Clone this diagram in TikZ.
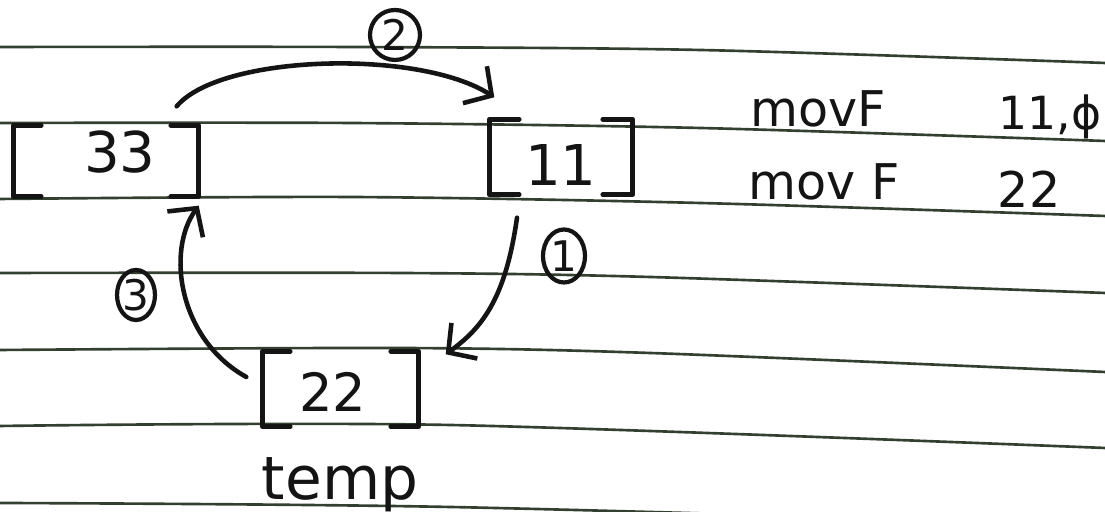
\documentclass[tikz,border=0pt]{standalone}
\usepackage{fontspec}
\setmainfont{DejaVu Sans}
\usetikzlibrary{arrows.meta,shapes.geometric,calc}
\definecolor{ink}{HTML}{141414}
\definecolor{rulec}{HTML}{34402F}
\newcommand\drawbrackets[2]{%
  \draw[pen] ([xshift=#2]#1.north west) -- (#1.north west) -- (#1.south west) -- ([xshift=#2]#1.south west);
  \draw[pen] ([xshift=-#2]#1.north east) -- (#1.north east) -- (#1.south east) -- ([xshift=-#2]#1.south east);}
\begin{document}
\begin{tikzpicture}[
  pen/.style={draw=ink,line width=1.3pt,line cap=round,line join=round},
  rulel/.style={draw=rulec,line width=0.75pt},
  box/.style={inner sep=0pt,rectangle},
  val/.style={text=ink,inner sep=0pt,font=\fontsize{16}{18}\selectfont},
  circ/.style={ellipse,draw=ink,line width=1.2pt,inner sep=0pt,text=ink,font=\fontsize{12}{14}\selectfont},
  arr/.style={pen,-{Straight Barb[length=2mm,width=4.4mm]}},
  code/.style={text=ink,font=\fontsize{14}{16}\selectfont,anchor=base west,inner sep=0pt},
]
\useasboundingbox (0,0) rectangle (11.05,5.12);
\clip (0,0) rectangle (11.05,5.12);
\fill[white] (0,0) rectangle (11.05,5.12);
% ruled paper lines
\draw[rulel] plot[smooth] coordinates {(0,4.65) (3.5,4.65) (7.0,4.62) (11.05,4.49)};
\draw[rulel] plot[smooth] coordinates {(0,3.89) (3.5,3.89) (7.0,3.84) (11.05,3.71)};
\draw[rulel] plot[smooth] coordinates {(0,3.13) (3.5,3.15) (7.0,3.09) (11.05,2.96)};
\draw[rulel] plot[smooth] coordinates {(0,2.39) (4.0,2.39) (6.5,2.35) (11.05,2.19)};
\draw[rulel] plot[smooth] coordinates {(0,1.62) (4.0,1.64) (6.5,1.59) (11.05,1.40)};
\draw[rulel] plot[smooth] coordinates {(0,0.86) (4.5,0.87) (11.05,0.64)};
\draw[rulel] plot[smooth] coordinates {(0,0.09) (4.5,0.05) (11.05,-0.13)};
% bracket boxes
\node[box,minimum width=1.84cm,minimum height=0.70cm] (b33) at (1.06,3.51) {};
\node[box,minimum width=1.42cm,minimum height=0.74cm] (b11) at (5.61,3.55) {};
\node[box,minimum width=1.55cm,minimum height=0.74cm] (b22) at (3.405,1.23) {};
\drawbrackets{b33}{0.28cm}
\drawbrackets{b11}{0.30cm}
\drawbrackets{b22}{0.28cm}
\node[val] (t33) at (1.20,3.60) {33};
\node[val] (t11) at (5.61,3.47) {11};
\node[val,font=\fontsize{15}{17}\selectfont] (t22) at (3.33,1.20) {22};
\node[text=ink,font=\fontsize{17}{20}\selectfont,anchor=base,inner sep=0pt] (temp) at (3.40,0.12) {temp};
% step labels
\node[circ,minimum width=0.50cm,minimum height=0.50cm] (c2) at (3.95,4.77) {2};
\node[circ,minimum width=0.42cm,minimum height=0.53cm] (c1) at (5.64,2.56) {1};
\node[circ,minimum width=0.32cm,minimum height=0.50cm] (c3) at (1.36,2.17) {3};
% arrows
\draw[arr] ([xshift=-0.22cm,yshift=0.19cm]b33.north east)
  to[out=50,in=147,out distance=0.68cm,in distance=0.89cm]
  ([xshift=0.05cm,yshift=0.22cm]b11.north west);
\draw[arr] ([xshift=-0.44cm,yshift=-0.23cm]b11.south)
  to[out=262,in=36,out distance=0.84cm,in distance=0.43cm]
  ([xshift=0.27cm,yshift=-0.03cm]b22.north east);
\draw[arr] ([xshift=-0.16cm,yshift=0.12cm]b22.west)
  to[out=151,in=234,out distance=0.77cm,in distance=0.56cm]
  ([yshift=-0.09cm]b33.south east);
% code text
\node[code] (m1) at (7.50,3.85) {movF};
\node[code,font=\fontsize{13}{15}\selectfont] (a1) at (9.98,3.82) {11,ϕ};
\node[code] (m2) at (7.48,3.12) {mov F};
\node[code] (a2) at (9.97,3.04) {22};
\end{tikzpicture}
\end{document}
